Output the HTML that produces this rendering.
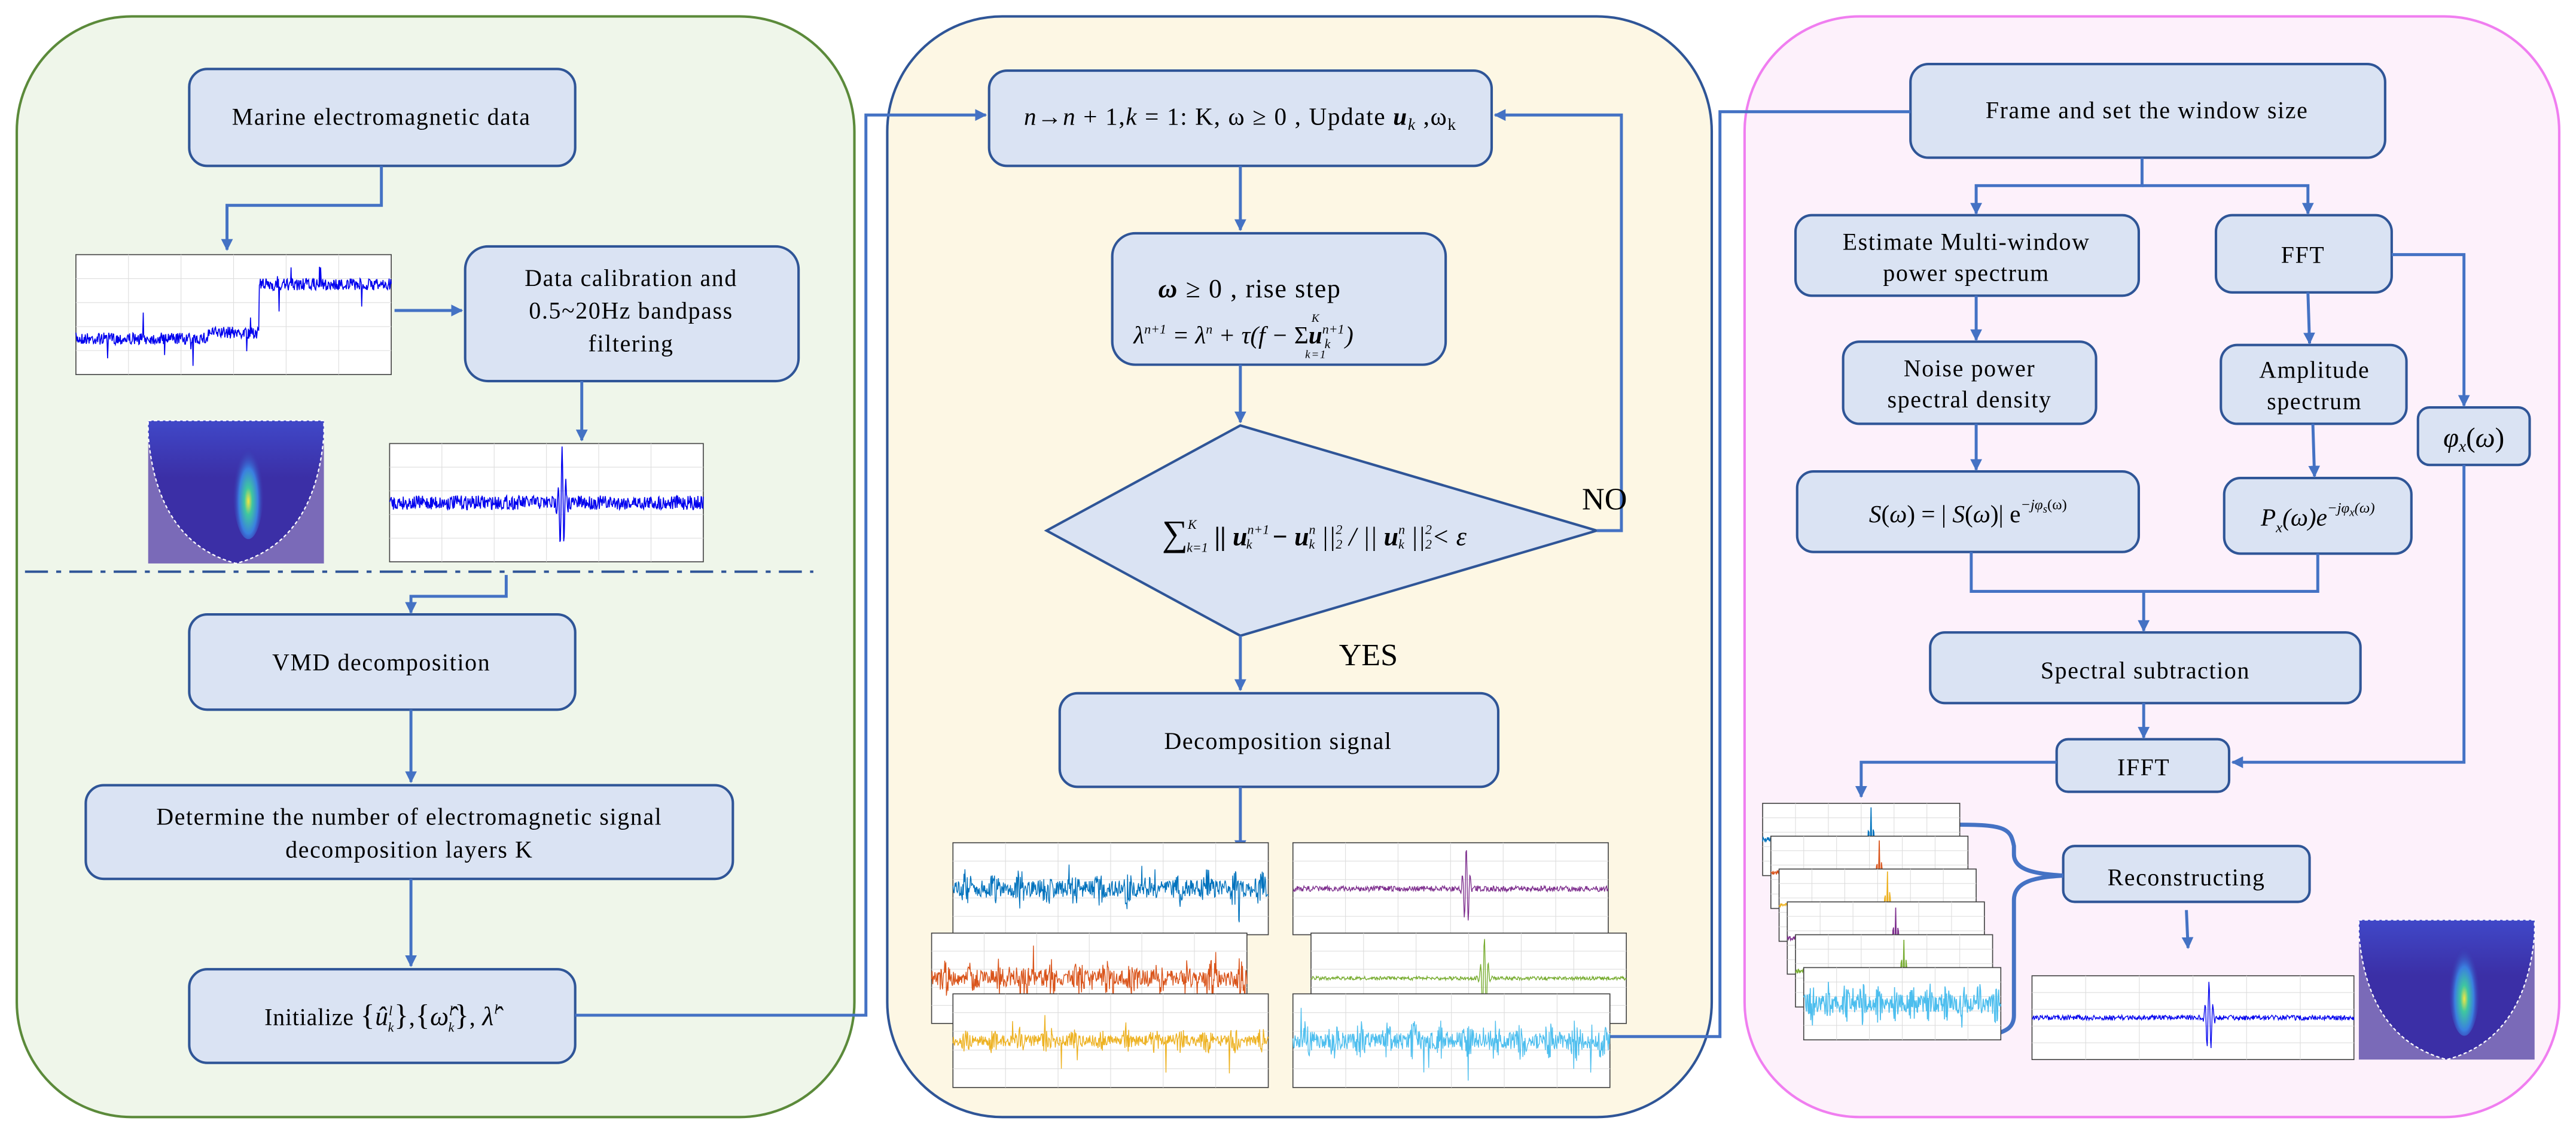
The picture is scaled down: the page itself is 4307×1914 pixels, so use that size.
<!DOCTYPE html>
<html><head><meta charset="utf-8"><style>
html,body{margin:0;padding:0;background:#fff}
svg{display:block}
text{font-family:"Liberation Serif",serif;fill:#000}
</style></head><body>
<svg id="s" width="4307" height="1914" viewBox="0 0 1568 697" xmlns="http://www.w3.org/2000/svg">
<defs>
<marker id="a" viewBox="0 0 10 10" refX="9" refY="5" markerWidth="4" markerHeight="4" orient="auto"><path d="M0,0 L10,5 L0,10 z" fill="#4472c4"/></marker>
<radialGradient id="sp1" cx="0.5" cy="0.65" r="0.5"><stop offset="0" stop-color="#f5e642"/><stop offset="0.25" stop-color="#3fc7a0"/><stop offset="0.6" stop-color="#3a7fe0"/><stop offset="1" stop-color="#3a2fa8" stop-opacity="0"/></radialGradient>
<linearGradient id="top" x1="0" y1="0" x2="0" y2="1"><stop offset="0" stop-color="#4048c8"/><stop offset="0.4" stop-color="#3b2fa6"/><stop offset="1" stop-color="#3b2fa6"/></linearGradient>
</defs>
<rect x="10" y="10" width="510" height="670" rx="70" fill="#eff6ea" stroke="#5b8a3a" stroke-width="1.5"/>
<rect x="540" y="10" width="502" height="670" rx="70" fill="#fdf7e4" stroke="#2f5597" stroke-width="1.5"/>
<rect x="1062" y="10" width="496" height="670" rx="70" fill="#fdf1fb" stroke="#f07ef0" stroke-width="1.5"/>

<g fill="#dae3f3" stroke="#2f5597" stroke-width="1.5">
<rect x="115" y="42" width="235" height="59" rx="11"/>
<rect x="283" y="150" width="203" height="82" rx="14"/>
<rect x="115" y="374" width="235" height="58" rx="11"/>
<rect x="52" y="478" width="394" height="57" rx="11"/>
<rect x="115" y="590" width="235" height="57" rx="11"/>
<rect x="602" y="43" width="306" height="58" rx="11"/>
<rect x="677" y="142" width="203" height="80" rx="14"/>
<polygon points="755,259 972,323 755,387 637,323"/>
<rect x="645" y="422" width="267" height="57" rx="11"/>
<rect x="1163" y="39" width="289" height="57" rx="11"/>
<rect x="1093" y="131" width="209" height="49" rx="10"/>
<rect x="1349" y="131" width="107" height="47" rx="10"/>
<rect x="1122" y="208" width="154" height="50" rx="10"/>
<rect x="1352" y="210" width="113" height="48" rx="10"/>
<rect x="1472" y="248" width="68" height="35" rx="7"/>
<rect x="1094" y="287" width="208" height="49" rx="10"/>
<rect x="1354" y="291" width="114" height="46" rx="10"/>
<rect x="1175" y="385" width="262" height="43" rx="9"/>
<rect x="1252" y="450" width="105" height="32" rx="7"/>
<rect x="1256" y="515" width="150" height="34" rx="7"/>
</g>

<line x1="15" y1="348" x2="495" y2="348" stroke="#2f5597" stroke-width="1.5" stroke-dasharray="14,5,3,5"/>

<g fill="none" stroke="#4472c4" stroke-width="1.8">
<polyline points="232,101 232,125 138,125 138,152" marker-end="url(#a)"/>
<polyline points="240,189 281,189" marker-end="url(#a)"/>
<polyline points="354,232 354,268" marker-end="url(#a)"/>
<polyline points="308,350 308,363 250,363 250,373" marker-end="url(#a)"/>
<polyline points="250,432 250,476" marker-end="url(#a)"/>
<polyline points="250,535 250,588" marker-end="url(#a)"/>
<polyline points="350,618 527,618 527,70 600,70" marker-end="url(#a)"/>
<polyline points="755,101 755,140" marker-end="url(#a)"/>
<polyline points="755,222 755,257" marker-end="url(#a)"/>
<polyline points="972,323 987,323 987,70 910,70" marker-end="url(#a)"/>
<polyline points="755,387 755,420" marker-end="url(#a)"/>
<polyline points="755,479 755,518" marker-end="url(#a)"/>
<polyline points="980,631 1047,631 1047,68 1163,68"/>
<polyline points="1304,96 1304,113 1203,113 1203,130" marker-end="url(#a)"/>
<polyline points="1304,113 1405,113 1405,130" marker-end="url(#a)"/>
<polyline points="1203,180 1203,207" marker-end="url(#a)"/>
<polyline points="1405,178 1406,209" marker-end="url(#a)"/>
<polyline points="1203,258 1203,286" marker-end="url(#a)"/>
<polyline points="1408,258 1409,290" marker-end="url(#a)"/>
<polyline points="1456,155 1500,155 1500,247" marker-end="url(#a)"/>
<polyline points="1500,283 1500,464 1359,464" marker-end="url(#a)"/>
<polyline points="1200,336 1200,360 1411,360 1411,337"/>
<polyline points="1305,360 1305,384" marker-end="url(#a)"/>
<polyline points="1305,428 1305,449" marker-end="url(#a)"/>
<polyline points="1252,464 1133,464 1133,485" marker-end="url(#a)"/>
<polyline points="1331,554 1332,577" marker-end="url(#a)"/>
<path d="M1193,502 C1222,502 1224,505 1226,515 L1226,520 C1226,530 1240,532 1256,533" stroke-width="2.5"/>
<path d="M1256,533 C1240,534 1226,536 1226,548 L1226,618 C1226,625 1222,628 1212,630" stroke-width="2.5"/>
</g>

<g id="plots"></g>

<g font-size="14.5" text-anchor="middle" letter-spacing="0.6">
<text x="232" y="76">Marine electromagnetic data</text>
<text x="384" y="174">Data calibration and</text>
<text x="384" y="194">0.5~20Hz bandpass</text>
<text x="384" y="214">filtering</text>
<text x="232" y="408">VMD decomposition</text>
<text x="249" y="502">Determine the number of  electromagnetic signal</text>
<text x="249" y="522">decomposition layers K</text>
<text x="232" y="624" letter-spacing="0.3">Initialize  <tspan font-size="18">{</tspan><tspan font-style="italic" font-size="16">û</tspan><tspan font-size="8" font-style="italic" dy="-6">l</tspan><tspan font-size="8" font-style="italic" dy="10" dx="-3">k</tspan><tspan font-size="18" dy="-4">}</tspan>,<tspan font-size="18">{</tspan><tspan font-style="italic" font-size="16">ω̂</tspan><tspan font-size="8" font-style="italic" dy="-6">l</tspan><tspan font-size="8" font-style="italic" dy="10" dx="-3">k</tspan><tspan font-size="18" dy="-4">}</tspan>, <tspan font-style="italic" font-size="16">λ̂</tspan><tspan font-size="8" font-style="italic" dy="-7">l</tspan></text>

<text x="755" y="76" font-size="15"><tspan font-style="italic">n</tspan>→<tspan font-style="italic">n</tspan> + 1,<tspan font-style="italic">k</tspan> = 1: K, ω ≥ 0 , Update <tspan font-style="italic" font-weight="bold">u</tspan><tspan font-size="10" dy="3" font-style="italic">k</tspan><tspan dy="-3"> ,ω</tspan><tspan font-size="10" dy="3">k</tspan></text>
<text x="705" y="181" font-size="16" text-anchor="start"><tspan font-style="italic" font-weight="bold">ω</tspan>  ≥ 0 , rise step</text>
<text x="690" y="209" font-size="15" font-style="italic" text-anchor="start" letter-spacing="0">λ<tspan font-size="8" dy="-6">n+1</tspan><tspan dy="6"> = λ</tspan><tspan font-size="8" dy="-6">n</tspan><tspan dy="6"> + τ(f −  </tspan><tspan font-style="normal" font-size="15">Σ</tspan><tspan font-weight="bold">u</tspan><tspan font-size="8" dy="-6">n+1</tspan><tspan font-size="8" dy="9" dx="-12">k</tspan><tspan dy="-3" dx="9">)</tspan></text>
<text x="801" y="218" font-size="7" font-style="italic">k=1</text>
<text x="801" y="196" font-size="7" font-style="italic">K</text>
<text x="800" y="332" font-size="16" font-style="italic" letter-spacing="0"><tspan font-size="22" font-style="normal">∑</tspan><tspan font-size="8" dy="-10">K</tspan><tspan font-size="8" dy="14" dx="-6">k=1</tspan><tspan dy="-4" font-weight="bold"> || u</tspan><tspan font-size="8" dy="-7">n+1</tspan><tspan font-size="8" dy="9" dx="-14">k</tspan><tspan dy="-2" dx="8" font-weight="bold"> − u</tspan><tspan font-size="8" dy="-7">n</tspan><tspan font-size="8" dy="9" dx="-4">k</tspan><tspan dy="-2"> ||</tspan><tspan font-size="8" dy="-7">2</tspan><tspan font-size="8" dy="9" dx="-4">2</tspan><tspan dy="-2"> / || </tspan><tspan font-weight="bold">u</tspan><tspan font-size="8" dy="-7">n</tspan><tspan font-size="8" dy="9" dx="-4">k</tspan><tspan dy="-2"> ||</tspan><tspan font-size="8" dy="-7">2</tspan><tspan font-size="8" dy="9" dx="-4">2</tspan><tspan dy="-2">&lt; ε</tspan></text>
<text x="963" y="310" font-size="19" text-anchor="start" letter-spacing="0">NO</text>
<text x="815" y="405" font-size="19" text-anchor="start" letter-spacing="0">YES</text>
<text x="778" y="456">Decomposition signal</text>

<text x="1307" y="72">Frame and set the window size</text>
<text x="1197" y="152">Estimate Multi-window</text>
<text x="1197" y="171">power spectrum</text>
<text x="1402" y="160">FFT</text>
<text x="1199" y="229">Noise power</text>
<text x="1199" y="248">spectral density</text>
<text x="1409" y="230">Amplitude</text>
<text x="1409" y="249">spectrum</text>
<text x="1506" y="272" font-size="17" font-style="italic" letter-spacing="0">φ<tspan font-size="10" dy="3">x</tspan><tspan dy="-3" font-style="normal">(</tspan>ω<tspan font-style="normal">)</tspan></text>
<text x="1198" y="318" font-size="15" letter-spacing="0"><tspan font-style="italic">S</tspan>(<tspan font-style="italic">ω</tspan>) = |  <tspan font-style="italic">S</tspan>(<tspan font-style="italic">ω</tspan>)|  e<tspan font-size="9" dy="-8" font-style="italic">−jφ</tspan><tspan font-size="7" dy="2" font-style="italic">s</tspan><tspan font-size="9" dy="-2">(ω)</tspan></text>
<text x="1411" y="320" font-size="15" font-style="italic" letter-spacing="0">P<tspan font-size="9" dy="4">x</tspan><tspan dy="-4">(ω)e</tspan><tspan font-size="9" dy="-8">−jφ</tspan><tspan font-size="7" dy="2">x</tspan><tspan font-size="9" dy="-2">(ω)</tspan></text>
<text x="1306" y="413">Spectral subtraction</text>
<text x="1305" y="472">IFFT</text>
<text x="1331" y="539">Reconstructing</text>
</g>
</svg>
<script>
(function(){
var NS="http://www.w3.org/2000/svg",g=document.getElementById("plots");
var seed=7;function r(){seed=(seed*16807)%2147483647;return seed/2147483647;}
function el(t,a){var e=document.createElementNS(NS,t);for(var k in a)e.setAttribute(k,a[k]);g.appendChild(e);return e;}
function plot(x,y,w,h,col,type,amp,lw){
 el("rect",{x:x,y:y,width:w,height:h,fill:"#fff",stroke:"#444","stroke-width":0.6});
 for(var i=1;i<6;i++)el("line",{x1:x+w*i/6,y1:y,x2:x+w*i/6,y2:y+h,stroke:"#ddd","stroke-width":0.4});
 for(var j=1;j<5;j++)el("line",{x1:x,y1:y+h*j/5,x2:x+w,y2:y+h*j/5,stroke:"#ddd","stroke-width":0.4});
 var n=Math.floor(w*3),d="";var cy=y+h/2;
 for(var i=0;i<=n;i++){var t=i/n,px=x+t*w,v;
  if(type=="step"){var base=t<0.42?cy+h*0.2:(t<0.58?cy+h*0.15:cy-h*0.25);v=base+(r()-0.5)*h*0.1;if(r()<0.02)v+=(r()-0.5)*h*0.4;}
  else if(type=="noise"){v=cy+(r()-0.5)*h*amp*(1+1.5*Math.pow(Math.sin(t*37),8));if(r()<0.02)v+=(r()-0.5)*h*0.7;}
  else {var e=Math.exp(-Math.pow((t-0.55)/0.012,2));v=cy+(r()-0.5)*h*amp+Math.sin(t*500)*e*h*0.45;}
  v=Math.max(y+1,Math.min(y+h-1,v));d+=(i?"L":"M")+px.toFixed(1)+","+v.toFixed(1);}
 el("path",{d:d,fill:"none",stroke:col,"stroke-width":lw||0.5});
}
plot(46,155,192,73,"#0000ee","step",0,0.6);
plot(237,270,191,72,"#0000ee","burst",0.12,0.6);
plot(580,513,192,56,"#0072bd","noise",0.18);
plot(787,513,192,56,"#7e2f8e","burst",0.06);
plot(567,568,192,55,"#d95319","noise",0.18);
plot(798,568,192,55,"#77ac30","burst",0.04);
plot(580,605,192,57,"#edb120","noise",0.12);
plot(787,605,193,57,"#4dbeee","noise",0.18);
var cols=["#0072bd","#d95319","#edb120","#7e2f8e","#77ac30","#4dbeee"];
for(var k=0;k<6;k++)plot(1073+k*5,489+k*20,120,44,cols[k],k==5?"noise":"burst",k==5?0.25:0.06,0.6);
plot(1237,594,196,51,"#0000ee","burst",0.06,0.5);
function spec(x,y,w,h,cx){
 el("rect",{x:x,y:y,width:w,height:h,fill:"#7a6ab8"});
 el("path",{d:"M"+x+","+y+" L"+(x+w)+","+y+" L"+(x+w)+","+(y+h*0.1)+" Q"+(x+w*0.95)+","+(y+h*0.85)+" "+(x+w/2)+","+(y+h)+" Q"+(x+w*0.05)+","+(y+h*0.85)+" "+x+","+(y+h*0.1)+" Z",fill:"url(#top)",stroke:"#fff","stroke-width":0.8,"stroke-dasharray":"2,1.5"});
 el("ellipse",{cx:x+w*cx,cy:y+h*0.45,rx:w*0.09,ry:h*0.38,fill:"url(#sp1)"});
}
spec(90,256,107,87,0.57);
spec(1436,560,107,85,0.6);
})();
</script>
</body></html>
